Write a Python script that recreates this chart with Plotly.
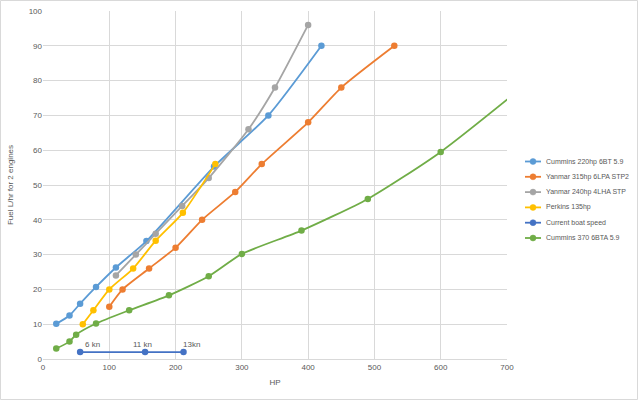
import plotly.graph_objects as go

# ---- data ----
cummins220_hp = [20, 40, 56, 80, 110, 156, 258, 340, 420]
cummins220_fuel = [10.1, 12.5, 15.9, 20.7, 26.3, 33.9, 55.3, 70, 90]

yanmar315_hp = [100, 120, 160, 200, 240, 290, 330, 400, 450, 530]
yanmar315_fuel = [15, 20, 26, 32, 40, 48, 56, 68, 78, 90]

yanmar240_hp = [110, 140, 170, 210, 250, 310, 350, 400]
yanmar240_fuel = [24, 30, 36, 44, 52, 66, 78, 96]

perkins_hp = [60, 76, 100, 136, 170, 211, 260]
perkins_fuel = [10, 14, 20, 26, 34, 42, 56]

speed_hp = [56, 154, 212]
speed_fuel = [2, 2, 2]
speed_labels = ["6 kn", "11 kn", "13kn"]
speed_label_shift = [12, -3, 8]

cummins370_hp = [20, 40, 50, 80, 130, 190, 250, 300, 390, 490, 600, 800]
cummins370_fuel = [3, 5, 7, 10.2, 14, 18.3, 23.8, 30.2, 36.9, 46, 59.5, 90]

y_ticks = [0, 10, 20, 30, 40, 50, 60, 70, 80, 90, 100]
x_ticks = [0, 100, 200, 300, 400, 500, 600, 700]

series = [
    ("Cummins 220hp 6BT 5.9", cummins220_hp, cummins220_fuel, "#5B9BD5"),
    ("Yanmar 315hp 6LPA STP2", yanmar315_hp, yanmar315_fuel, "#ED7D31"),
    ("Yanmar 240hp 4LHA STP", yanmar240_hp, yanmar240_fuel, "#A5A5A5"),
    ("Perkins 135hp", perkins_hp, perkins_fuel, "#FFC000"),
    ("Current boat speed", speed_hp, speed_fuel, "#4472C4"),
    ("Cummins 370 6BTA 5.9", cummins370_hp, cummins370_fuel, "#70AD47"),
]

FONT = "Liberation Sans"
GREY = "#595959"

fig = go.Figure()
for name, xs, ys, col in series:
    fig.add_trace(go.Scatter(
        x=xs, y=ys, name=name, mode="lines+markers", showlegend=False,
        line=dict(color=col, width=1.8, shape="spline", smoothing=0.6),
        marker=dict(color=col, size=6.5, symbol="circle"),
    ))

for x, y, t, s in zip(speed_hp, speed_fuel, speed_labels, speed_label_shift):
    fig.add_annotation(x=x, y=y, text=t, showarrow=False, xshift=s, yshift=8,
                       font=dict(size=8, color=GREY, family=FONT))

W, H = 638, 400
L, R, T, B = 43, 131, 11, 41
PW, PH = W - L - R, H - T - B


def px(xp):
    return (xp - L) / PW


def py(yp):
    return 1 - (yp - T) / PH


# chart-area border
fig.add_shape(type="rect", xref="paper", yref="paper",
              x0=px(0.5), x1=px(637.5), y0=py(399.5), y1=py(0.5),
              line=dict(color="#D9D9D9", width=1), layer="below")

# legend (Excel style, compact rows)
for i, (name, _, _, col) in enumerate(series):
    yc = 161.5 + i * 15.3
    fig.add_shape(type="line", xref="paper", yref="paper",
                  x0=px(525), x1=px(541), y0=py(yc), y1=py(yc),
                  line=dict(color=col, width=1.8))
    fig.add_shape(type="circle", xref="paper", yref="paper",
                  x0=px(530), x1=px(536), y0=py(yc + 3), y1=py(yc - 3),
                  line=dict(color=col, width=0.5), fillcolor=col)
    fig.add_annotation(xref="paper", yref="paper", x=px(544), y=py(yc),
                       xanchor="left", yanchor="middle", text=name, showarrow=False,
                       font=dict(size=7, color=GREY, family=FONT))

fig.update_layout(
    width=W, height=H,
    margin=dict(l=L, r=R, t=T, b=B, autoexpand=False),
    paper_bgcolor="white", plot_bgcolor="white",
    font=dict(family=FONT, size=8, color=GREY),
    showlegend=False,
    xaxis=dict(range=[0, 700], tickvals=x_ticks, showgrid=True, gridcolor="#D9D9D9",
               gridwidth=1, zeroline=False, showline=True, linecolor="#D9D9D9",
               ticks="", tickfont=dict(size=8, color=GREY),
               title=dict(text="HP", font=dict(size=8, color=GREY), standoff=8)),
    yaxis=dict(range=[0, 100], tickvals=y_ticks, showgrid=True, gridcolor="#D9D9D9",
               gridwidth=1, zeroline=False, showline=False, mirror=False,
               ticks="", tickfont=dict(size=8, color=GREY),
               title=dict(text="Fuel L/hr for 2 engines", font=dict(size=8, color=GREY), standoff=13)),
)

fig.write_html("out.html", config={"displayModeBar": False},
               post_script="document.body.style.margin='0px';document.body.style.padding='0px';")
